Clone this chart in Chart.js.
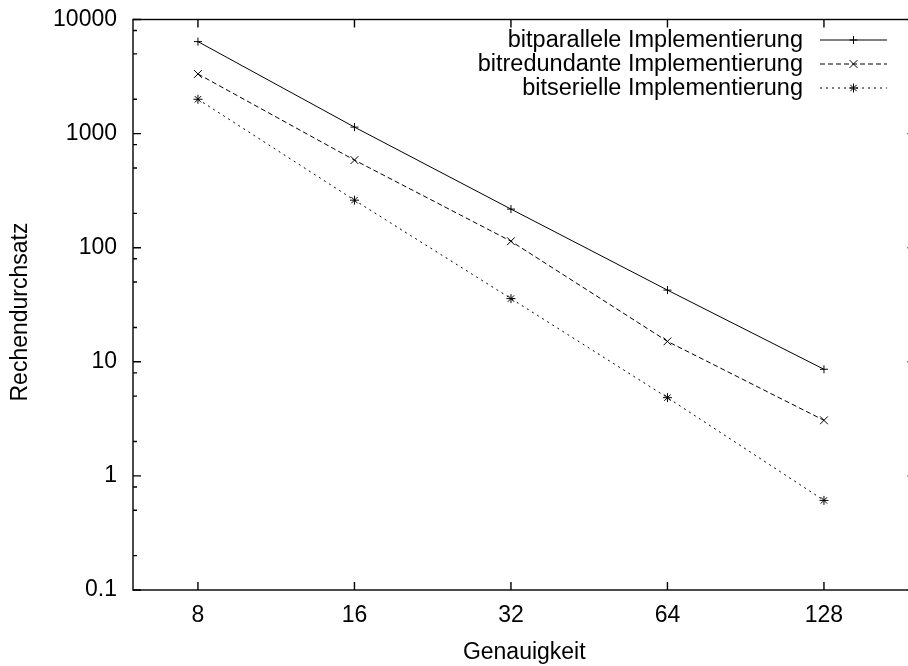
<!DOCTYPE html>
<html>
<head>
<meta charset="utf-8">
<script src="https://cdn.jsdelivr.net/npm/chart.js@4.4.1/dist/chart.umd.min.js"></script>
<style>
  html, body { margin: 0; padding: 0; background: #fff; overflow: hidden; }
  #mycanvas { display: block; }
</style>
</head>
<body>
<canvas id="mycanvas" width="922" height="666"></canvas>
<script>
// Werte
var genauigkeit = [8, 16, 32, 64, 128];
var bitparallel = [6400, 1140, 218, 42.5, 8.6];
var bitredundant = [3330, 586, 114, 15.1, 3.07];
var bitseriell = [2000, 261, 35.8, 4.85, 0.61];
var seriesNames = ['bitparallele Implementierung', 'bitredundante Implementierung', 'bitserielle Implementierung'];
var xTickValues = [8, 16, 32, 64, 128];
var yTickValues = [0.1, 1, 10, 100, 1000, 10000];
var yMinorSteps = [2, 5, 8];

var FONT = 'Liberation Sans, Arial, Helvetica, sans-serif';
var FS = 23;

function points(vals) {
	var out = [];
	for (var i in genauigkeit) {
		out.push({x: genauigkeit[i], y: vals[i]});
	}
	return out;
}

/* Symbol fuer die Legende zeichnen */
function drawMarker(ctx, style, x, y, r) {
	ctx.beginPath();
	if (style === 'cross' || style === 'star') {
		ctx.moveTo(x - r, y); ctx.lineTo(x + r, y);
		ctx.moveTo(x, y - r); ctx.lineTo(x, y + r);
	}
	if (style === 'crossRot' || style === 'star') {
		var d = r * Math.SQRT1_2;
		ctx.moveTo(x - d, y - d); ctx.lineTo(x + d, y + d);
		ctx.moveTo(x - d, y + d); ctx.lineTo(x + d, y - d);
	}
	ctx.stroke();
}

/* Rahmen und Ticks im gnuplot-Stil (nach innen, gespiegelt) */
var framePlugin = {
	id: 'framePlugin',
	afterDatasetsDraw: function(chart) {
		var ctx = chart.ctx;
		var a = chart.chartArea;
		var xs = chart.scales.x, ys = chart.scales.y;
		ctx.save();
		ctx.strokeStyle = '#000';
		ctx.lineWidth = 1.4;
		ctx.setLineDash([]);
		ctx.strokeRect(a.left, a.top, a.right - a.left, a.bottom - a.top);
		ctx.beginPath();
		xTickValues.forEach(function(v) {
			var px = xs.getPixelForValue(v);
			ctx.moveTo(px, a.bottom); ctx.lineTo(px, a.bottom - 8);
			ctx.moveTo(px, a.top); ctx.lineTo(px, a.top + 8);
		});
		yTickValues.forEach(function(v, k) {
			var py = ys.getPixelForValue(v);
			ctx.moveTo(a.left, py); ctx.lineTo(a.left + 8, py);
			ctx.moveTo(a.right, py); ctx.lineTo(a.right - 8, py);
			if (k < yTickValues.length - 1) {
				yMinorSteps.forEach(function(m) {
					var pm = ys.getPixelForValue(v * m);
					ctx.moveTo(a.left, pm); ctx.lineTo(a.left + 4, pm);
					ctx.moveTo(a.right, pm); ctx.lineTo(a.right - 4, pm);
				});
			}
		});
		ctx.stroke();

		/* y-Achsentitel */
		ctx.save();
		ctx.translate(21, 312);
		ctx.rotate(-Math.PI / 2);
		ctx.fillStyle = '#000';
		ctx.font = FS + 'px ' + FONT;
		ctx.textAlign = 'center';
		ctx.textBaseline = 'middle';
		ctx.fillText('Rechendurchsatz', 0, 0);
		ctx.restore();
		ctx.restore();
	},
	afterDraw: function(chart) {
		/* Legende: Text rechtsbuendig, danach Linienmuster mit Symbol */
		var ctx = chart.ctx;
		ctx.save();
		chart.data.datasets.forEach(function(ds, i) {
			var y = 40 + i * 24;
			ctx.fillStyle = '#000';
			ctx.font = '23.5px ' + FONT;
			ctx.textAlign = 'right';
			ctx.textBaseline = 'middle';
			ctx.fillText(ds.label, 803, y + 1);
			ctx.strokeStyle = ds.borderColor;
			ctx.lineWidth = ds.borderWidth;
			ctx.setLineDash(ds.borderDash || []);
			ctx.beginPath();
			ctx.moveTo(820, y); ctx.lineTo(887, y);
			ctx.stroke();
			ctx.setLineDash([]);
			ctx.lineWidth = 1;
			drawMarker(ctx, ds.pointStyle, 853.5, y, ds.pointStyle === 'crossRot' ? 5.5 : ds.pointRadius);
		});
		ctx.restore();
	}
};

var chartdata = {
	datasets: [
		{
			label: seriesNames[0],
			data: points(bitparallel),
			borderColor: '#000',
			borderWidth: 1,
			borderDash: [],
			pointStyle: 'cross',
			pointRadius: 4,
			pointBorderColor: '#000',
			pointBorderWidth: 1
		},
		{
			label: seriesNames[1],
			data: points(bitredundant),
			borderColor: '#000',
			borderWidth: 1,
			borderDash: [5, 3],
			pointStyle: 'crossRot',
			pointRadius: 5.5,
			pointBorderColor: '#000',
			pointBorderWidth: 1
		},
		{
			label: seriesNames[2],
			data: points(bitseriell),
			borderColor: '#000',
			borderWidth: 1,
			borderDash: [2, 4],
			pointStyle: 'star',
			pointRadius: 4.5,
			pointBorderColor: '#000',
			pointBorderWidth: 1
		}
	]
};

var ctx = document.getElementById('mycanvas');

var lineGraph = new Chart(ctx, {
	type: 'line',
	data: chartdata,
	plugins: [framePlugin],
	options: {
		responsive: false,
		animation: false,
		layout: { padding: { top: 19.5, right: 3, left: 0, bottom: 0 } },
		plugins: {
			legend: { display: false },
			tooltip: { enabled: false }
		},
		elements: { line: { tension: 0, fill: false } },
		scales: {
			x: {
				type: 'logarithmic',
				min: 6,
				max: 192,
				bounds: 'data',
				grid: { display: false, drawTicks: false },
				border: { display: false },
				afterBuildTicks: function(scale) {
					scale.ticks = xTickValues.map(function(v) { return {value: v}; });
				},
				afterFit: function(scale) {
					scale.height = 76;
					scale.paddingLeft = 0;
					scale.paddingRight = 0;
				},
				ticks: {
					autoSkip: false,
					maxRotation: 0,
					padding: 12,
					color: '#000',
					font: { family: FONT, size: FS },
					callback: function(v) { return String(v); }
				},
				title: {
					display: true,
					text: 'Genauigkeit',
					color: '#000',
					font: { family: FONT, size: FS },
					padding: { top: 0, bottom: 0 }
				}
			},
			y: {
				type: 'logarithmic',
				min: 0.1,
				max: 10000,
				bounds: 'data',
				grid: { display: false, drawTicks: false },
				border: { display: false },
				afterBuildTicks: function(scale) {
					scale.ticks = yTickValues.map(function(v) { return {value: v}; });
				},
				afterFit: function(scale) {
					scale.width = 133;
					scale.paddingTop = 0;
					scale.paddingBottom = 0;
				},
				ticks: {
					autoSkip: false,
					padding: 16,
					color: '#000',
					font: { family: FONT, size: FS },
					callback: function(v) { return String(v); }
				},
				title: { display: false }
			}
		}
	}
});
</script>
</body>
</html>
